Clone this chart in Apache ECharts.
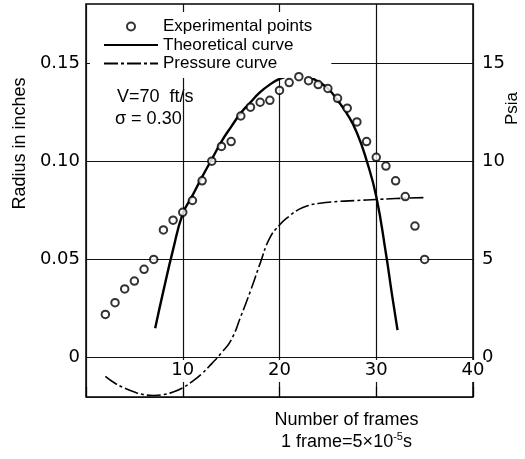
<!DOCTYPE html>
<html>
<head>
<meta charset="utf-8">
<script src="https://cdn.jsdelivr.net/npm/echarts@6/dist/echarts.min.js"></script>
<style>
  html, body { margin: 0; padding: 0; background: #fff; }
  #chart { width: 525px; height: 459px; }
</style>
</head>
<body>
<div id="chart"></div>
<script>
// ---- data ----
const expFrames = [2,3,4,5,6,7,8,9,10,11,12,13,14,15,16,17,18,19,20,21,22,23,24,25,26,27,28,29,30,31,32,33,34,35];
const expRadius = [0.022,0.028,0.035,0.039,0.045,0.050,0.065,0.070,0.074,0.080,0.090,0.100,0.1075,0.110,0.123,0.1275,0.130,0.131,0.136,0.140,0.143,0.141,0.139,0.137,0.132,0.127,0.120,0.110,0.102,0.0975,0.090,0.082,0.067,0.050];

const theoFrames = [7.15,8,9,10,11,12,13,14,15,16,17,18,19,20,21,22,23,24,25,26,27,28,29,30,31,31.6,32.2];
const theoRadius = [0.015,0.034,0.055,0.0732,0.0825,0.092,0.101,0.110,0.1175,0.1245,0.130,0.1351,0.139,0.1419,0.1435,0.1441,0.143,0.1405,0.137,0.131,0.124,0.1145,0.1004,0.082,0.053,0.033,0.014];

const presFrames = [2,3,4,5,6,7,8,9,10,11,12,13,14,15,16,17,18,19,20,21,22,23,24,26,28,30,32,35];
const presPsia  = [-0.95,-1.3,-1.55,-1.75,-1.88,-1.92,-1.88,-1.75,-1.53,-1.2,-0.8,-0.3,0.25,0.9,2.1,3.4,4.8,6.1,6.75,7.2,7.55,7.75,7.85,7.95,8.0,8.05,8.1,8.15];

const radiusTicks = [0, 0.05, 0.10, 0.15];
const psiaTicks = [0, 5, 10, 15];
const frameTicks = [0, 10, 20, 30, 40];
const frameLabels = [10, 20, 30, 40];
const radiusMin = -0.02, radiusMax = 0.18;
const psiaMin = -2, psiaMax = 18;

const seriesNames = ['Experimental points', 'Theoretical curve', 'Pressure curve'];

const zip = (xs, ys) => xs.map((x, i) => [x, ys[i]]);

const TXT = 'Liberation Sans';
const NUM = 'DejaVu Sans';

const chart = echarts.init(document.getElementById('chart'), null, { renderer: 'canvas' });
chart.setOption({
  backgroundColor: '#fff',
  animation: false,
  grid: {
    left: 86, right: 52, top: 4, bottom: 62,
    outerBoundsMode: 'none', containLabel: false,
    show: true, borderColor: '#000', borderWidth: 1.5, backgroundColor: 'transparent'
  },
  legend: {
    orient: 'vertical',
    left: 90, top: 12,
    padding: [6, 19, 6, 13],
    backgroundColor: '#fff',
    itemWidth: 54, itemHeight: 8, itemGap: 1.5,
    data: [
      { name: seriesNames[0] },
      { name: seriesNames[1], itemStyle: { opacity: 0 } },
      { name: seriesNames[2], itemStyle: { opacity: 0 } }
    ],
    textStyle: { fontFamily: TXT, fontSize: 17, color: '#000' }
  },
  xAxis: {
    type: 'value', min: 0, max: 40, interval: 10,
    axisLine: { show: false, onZero: false },
    axisTick: { show: true, inside: true, length: 10, customValues: frameTicks, lineStyle: { color: '#000', width: 1.2 } },
    axisLabel: {
      inside: true, margin: 15, customValues: frameLabels,
      fontFamily: NUM, fontSize: 18, color: '#000',
      backgroundColor: '#fff', padding: [1, 2, 3, 2]
    },
    splitLine: { show: true, showMinLine: true, showMaxLine: true, lineStyle: { color: '#111', width: 1.2 } },
    name: 'Number of frames\n1 frame=5×10{sup|-5}s',
    nameLocation: 'middle', nameGap: 12, nameMoveOverlap: false,
    nameTextStyle: {
      fontFamily: TXT, fontSize: 18, color: '#000', lineHeight: 22,
      verticalAlign: 'top',
      padding: [0, 0, 0, 134],
      rich: { sup: { fontFamily: TXT, fontSize: 11, color: '#000', verticalAlign: 'top', lineHeight: 22, padding: [0, 0, 6, 0] } }
    }
  },
  yAxis: [
    {
      type: 'value', min: radiusMin, max: radiusMax, position: 'left',
      axisLine: { show: false, onZero: false },
      axisTick: { show: false, customValues: [radiusMin].concat(radiusTicks) },
      axisLabel: {
        customValues: radiusTicks, margin: 6,
        formatter: v => (v === 0 ? '0' : v.toFixed(2)),
        fontFamily: NUM, fontSize: 18, color: '#000'
      },
      splitLine: { show: true, showMinLine: true, showMaxLine: true, lineStyle: { color: '#111', width: 1.2 } },
      name: 'Radius in inches', nameLocation: 'middle', nameGap: 57, nameMoveOverlap: false,
      nameTextStyle: { fontFamily: TXT, fontSize: 18, color: '#000', padding: [0, 0, 0, 114] }
    },
    {
      type: 'value', min: psiaMin, max: psiaMax, position: 'right',
      axisLine: { show: false, onZero: false },
      axisTick: { show: false, customValues: psiaTicks },
      axisLabel: {
        customValues: psiaTicks, margin: 9,
        fontFamily: NUM, fontSize: 18, color: '#000'
      },
      splitLine: { show: false },
      name: 'Psia', nameLocation: 'middle', nameGap: 31, nameMoveOverlap: false,
      nameTextStyle: { fontFamily: TXT, fontSize: 17, color: '#000', padding: [0, 0, 0, 184] }
    }
  ],
  graphic: [
    {
      type: 'group', left: 98, top: 78, z: 5,
      children: [
        { type: 'rect', shape: { x: 0, y: 0, width: 110, height: 55 }, style: { fill: '#fff' } },
        { type: 'text', x: 19, y: 10, style: { text: 'V=70  ft/s', fontFamily: TXT, fontSize: 18, fill: '#000' } },
        { type: 'text', x: 17, y: 32, style: { text: 'σ = 0.30', fontFamily: TXT, fontSize: 18, fill: '#000' } }
      ]
    }
  ],
  series: [
    {
      name: seriesNames[0], type: 'scatter', yAxisIndex: 0,
      symbol: 'emptyCircle', symbolSize: 7.5,
      itemStyle: { color: '#000', borderColor: '#000', borderWidth: 1.2 },
      data: zip(expFrames, expRadius), z: 4
    },
    {
      name: seriesNames[1], type: 'line', yAxisIndex: 0,
      smooth: true, symbol: 'none', showSymbol: false,
      lineStyle: { color: '#000', width: 2.4, type: 'solid' },
      itemStyle: { color: '#000' },
      data: zip(theoFrames, theoRadius), z: 3
    },
    {
      name: seriesNames[2], type: 'line', yAxisIndex: 1,
      smooth: true, symbol: 'none', showSymbol: false,
      lineStyle: { color: '#000', width: 1.6, type: [14, 3, 3, 3] },
      itemStyle: { color: '#000' },
      data: zip(presFrames, presPsia), z: 3
    }
  ]
});
</script>
</body>
</html>
